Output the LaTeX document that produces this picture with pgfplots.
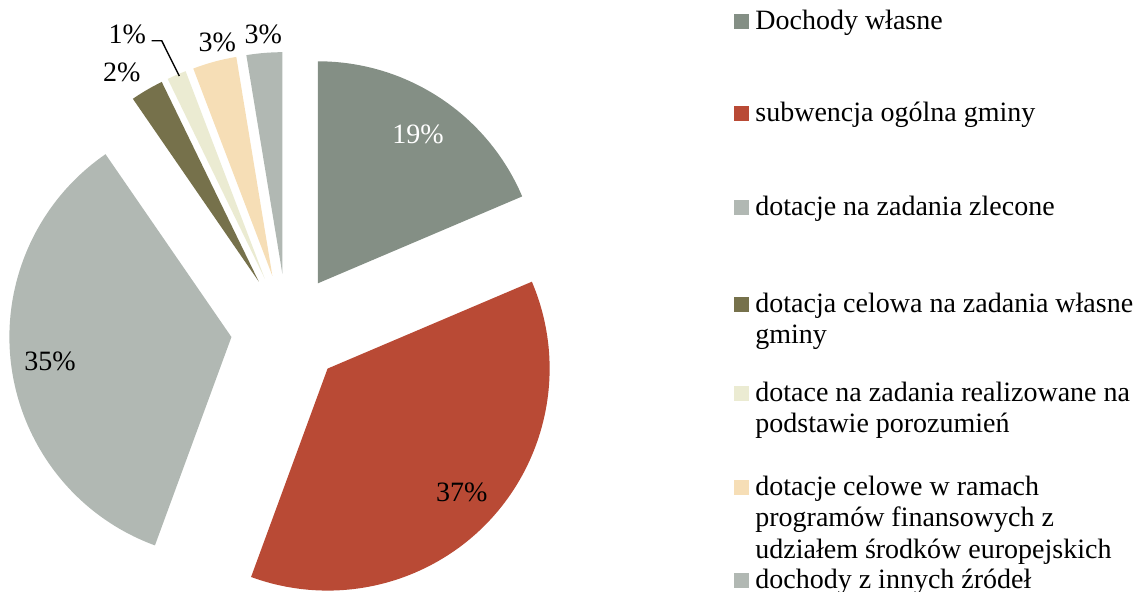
\documentclass[border=0pt]{standalone}
\usepackage{pgfplots}
\usepackage{pgfplotstable}
\pgfplotsset{compat=1.18}
\usepackage{fontspec}
\setmainfont{Liberation Serif}

\definecolor{slice0}{HTML}{848F85}
\definecolor{slice1}{HTML}{B94A35}
\definecolor{slice2}{HTML}{B1B8B3}
\definecolor{slice3}{HTML}{76714B}
\definecolor{slice4}{HTML}{EBEBD2}
\definecolor{slice5}{HTML}{F6DEB6}
\definecolor{slice6}{HTML}{B1B8B3}

% shares in percent, clockwise from 12 o'clock
\pgfplotstableread[col sep=comma]{
share
18.6
37.0
34.8
2.4
1.4
3.2
2.6
}\piedata

\newcommand\legfont{\fontsize{14pt}{15.75pt}\selectfont}
\newcommand\legline[3]{\node[anchor=base west,inner sep=0pt,font=\legfont] at (axis cs:#1,#2) {#3};}

\begin{document}
\begin{tikzpicture}
% pie geometry in axis units (1 unit = 0.5pt)
\def\pieCx{287}\def\pieCy{261}\def\pieOff{56}
\def\angcur{90}
\pgfplotsforeachungrouped \i in {0,...,6}{%
  \pgfplotstablegetelem{\i}{share}\of\piedata
  \pgfmathsetmacro\angnext{\angcur-3.6*\pgfplotsretval}%
  \pgfmathsetmacro\angmid{(\angcur+\angnext)/2}%
  \pgfmathsetmacro\vx{\pieCx+\pieOff*cos(\angmid)}%
  \pgfmathsetmacro\vy{\pieCy+\pieOff*sin(\angmid)}%
  \expandafter\xdef\csname pieS\i\endcsname{\angcur}%
  \expandafter\xdef\csname pieE\i\endcsname{\angnext}%
  \expandafter\xdef\csname pieX\i\endcsname{\vx}%
  \expandafter\xdef\csname pieY\i\endcsname{\vy}%
  \global\let\angcur\angnext
}
\begin{axis}[x=0.5pt,y=0.5pt,xmin=0,xmax=1141,ymin=0,ymax=591,
    hide axis,clip=false]
\coordinate (bbll) at (axis cs:0,0);
\coordinate (bbur) at (axis cs:1141,591);
\pgfplotsinvokeforeach{0,...,6}{%
  \fill[slice#1] (axis cs:{\csname pieX#1\endcsname},{\csname pieY#1\endcsname})
    -- ++(\csname pieS#1\endcsname:111pt)
    arc[start angle=\csname pieS#1\endcsname,end angle=\csname pieE#1\endcsname,radius=111pt]
    -- cycle;
}
% data labels
\node[anchor=base,inner sep=0pt,font=\legfont,white] at (axis cs:418,448) {19\%};
\node[anchor=base,inner sep=0pt,font=\legfont] at (axis cs:461.7,89.3) {37\%};
\node[anchor=base,inner sep=0pt,font=\legfont] at (axis cs:50,220.3) {35\%};
\node[anchor=base,inner sep=0pt,font=\legfont] at (axis cs:121.7,509.3) {2\%};
\node[anchor=base,inner sep=0pt,font=\legfont] at (axis cs:127.3,547.7) {1\%};
\node[anchor=base,inner sep=0pt,font=\legfont] at (axis cs:217.3,540) {3\%};
\node[anchor=base,inner sep=0pt,font=\legfont] at (axis cs:263.3,547.7) {3\%};
\draw[black,line width=0.7pt] (axis cs:151.7,550.3) -- (axis cs:161.7,550.3) -- (axis cs:179.3,515);
% legend
\fill[slice0] (axis cs:734,562) rectangle (axis cs:749,577);
\legline{755}{562}{Dochody własne}
\fill[slice1] (axis cs:734,470) rectangle (axis cs:749,485);
\legline{755}{470}{subwencja ogólna gminy}
\fill[slice2] (axis cs:734,376) rectangle (axis cs:749,391);
\legline{755}{376}{dotacje na zadania zlecone}
\fill[slice3] (axis cs:734,279) rectangle (axis cs:749,294);
\legline{755}{279}{dotacja celowa na zadania własne}
\legline{755}{247.5}{gminy}
\fill[slice4] (axis cs:734,190) rectangle (axis cs:749,205);
\legline{755}{190}{dotace na zadania realizowane na}
\legline{755}{158.5}{podstawie porozumień}
\fill[slice5] (axis cs:734,96) rectangle (axis cs:749,111);
\legline{755}{96}{dotacje celowe w ramach}
\legline{755}{64.5}{programów finansowych z}
\legline{755}{33}{udziałem środków europejskich}
\fill[slice6] (axis cs:734,3) rectangle (axis cs:749,18);
\legline{755}{3}{dochody z innych źródeł}
\end{axis}
\pgfresetboundingbox
\useasboundingbox (bbll) rectangle (bbur);
\end{tikzpicture}
\end{document}
